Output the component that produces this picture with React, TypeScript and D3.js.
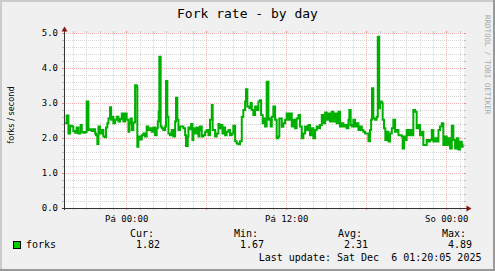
import React from "react";
import * as d3 from "d3";

// ---- data ----
const title = "Fork rate - by day";
const unitLabel = "forks / second";
const seriesName = "forks";
const watermark = "RRDTOOL / TOBI OETIKER";
const lastUpdate = "Last update: Sat Dec  6 01:20:05 2025";
const statLabels = ["Cur:", "Min:", "Avg:", "Max:"];
const statValues = ["1.82", "1.67", "2.31", "4.89"];
const dayNames = ["Ne", "Po", "Út", "St", "Čt", "Pá", "So"];
const yTicks = [0, 1, 2, 3, 4, 5];

// minutes after window start (Thu 19:20:05)
const sampleMinutes = [
  5, 12, 20, 27, 35, 42, 50, 57, 65, 72, 75, 80, 87, 95, 102, 110, 117, 125, 132, 140,
  144, 150, 155, 162, 170, 177, 185, 189, 195, 200, 207, 212, 218, 222, 230, 237, 245, 252, 260, 267,
  275, 282, 290, 294, 300, 305, 312, 320, 327, 330, 335, 342, 350, 357, 365, 372, 380, 387, 395, 402,
  410, 417, 422, 426, 429, 435, 440, 447, 455, 459, 465, 470, 477, 485, 492, 500, 504, 510, 515, 522,
  530, 537, 545, 549, 557, 560, 567, 572, 578, 582, 590, 597, 605, 609, 612, 620, 627, 635, 642, 650,
  657, 665, 669, 680, 687, 695, 699, 705, 713, 717, 725, 732, 740, 747, 755, 762, 770, 777, 785, 792,
  800, 807, 815, 819, 825, 834, 840, 845, 852, 860, 867, 875, 882, 887, 894, 900, 905, 912, 920, 924,
  930, 935, 942, 950, 957, 965, 969,
  972, 980, 987, 995, 1002, 1010, 1017, 1025, 1032, 1040, 1047, 1055, 1062, 1070, 1077, 1085, 1092, 1100, 1107, 1115,
  1122, 1130, 1137, 1145, 1152, 1160, 1167, 1175, 1182, 1190, 1197, 1205, 1212, 1220, 1227, 1235, 1242, 1250, 1257, 1265,
  1272, 1280, 1284, 1290, 1295, 1302, 1310, 1317, 1325, 1332, 1340, 1347, 1355, 1362, 1370, 1377, 1382, 1386, 1392, 1400,
  1407, 1412, 1418, 1422, 1430, 1434, 1440, 1446, 1452, 1460, 1467, 1475, 1482, 1490, 1497, 1505, 1512, 1520, 1524, 1530,
  1535, 1542, 1550, 1557, 1565, 1572, 1580, 1587, 1595, 1602, 1610, 1617, 1625, 1632, 1640, 1647, 1655, 1662, 1670, 1677,
  1685, 1692, 1700, 1707, 1715, 1722, 1730, 1737, 1745, 1752, 1760, 1767, 1775, 1782, 1790, 1794,
];

const forkRate = [
  2.42, 2.64, 2.13, 2.35, 2.33, 2.2, 2.15, 2.3, 2.13, 2.15, 2.37, 2.17, 2.15, 2.17, 3.04, 2.23, 2.25, 2.2, 2.25, 2.13,
  2.08, 1.83, 2.33, 2.13, 2.23, 2.04, 2.02, 2.3, 2.42, 2.56, 2.88, 2.52, 2.61, 2.42, 2.52, 2.61, 2.47, 2.54, 2.7, 2.47,
  2.7, 2.52, 2.18, 2.42, 2.56, 2.23, 2.44, 3.51, 3.47, 1.75, 2.04, 1.96, 2.08, 2.13, 2.04, 2.33, 2.23, 2.28, 2.18, 2.3,
  2.08, 2.28, 2.47, 2.76, 4.32, 2.33, 2.28, 2.23, 2.33, 3.63, 2.61, 2.13, 2.08, 2.23, 2.04, 2.47, 3.15, 2.52, 2.23, 2.33,
  2.33, 2.28, 2.08, 1.77, 2.04, 2.3, 2.25, 2.4, 1.94, 2.28, 2.13, 2.3, 2.04, 2.23, 2.33, 2.04, 2.08, 2.18, 2.23, 2.08,
  2.52, 2.94, 2.23, 2.04, 2.13, 2.4, 2.28, 2.37, 2.13, 2.3, 2.08, 2.18, 2.23, 2.08, 2.13, 2.35, 1.91, 1.84, 1.82, 1.91,
  2.61, 2.8, 3.04, 3.39, 2.9, 2.85, 3.0, 2.8, 2.66, 2.9, 2.8, 3.04, 3.08, 2.66, 2.42, 2.56, 2.33, 3.61, 2.52, 2.56,
  2.33, 2.61, 2.9, 2.52, 1.99, 2.04, 2.56,
  2.56, 2.32, 2.42, 2.52, 2.7, 2.52, 2.7, 2.33, 2.52, 2.28, 2.56, 2.66, 2.33, 1.99, 2.13, 2.33, 2.23, 2.37, 2.08, 2.28,
  1.99, 2.23, 2.33, 2.28, 2.37, 2.66, 2.42, 2.73, 2.52, 2.7, 2.47, 2.75, 2.47, 2.7, 2.42, 2.75, 2.33, 2.42, 2.33, 2.37,
  2.28, 2.52, 2.8, 2.37, 2.33, 2.52, 2.33, 2.42, 2.23, 2.33, 2.23, 2.18, 2.13, 2.13, 1.91, 2.23, 2.52, 3.42, 2.56, 2.52,
  2.61, 4.89, 2.85, 3.04, 3.0, 2.52, 2.28, 1.94, 2.18, 1.9, 2.13, 2.28, 2.52, 2.18, 2.23, 2.08, 2.08, 2.04, 1.7, 2.04,
  1.94, 2.23, 2.08, 2.23, 2.08, 2.8, 2.75, 2.28, 2.37, 2.08, 2.18, 1.8, 1.8, 1.94, 1.9, 1.94, 2.23, 1.9, 1.99, 1.9,
  2.23, 2.33, 2.42, 1.8, 2.04, 1.8, 1.99, 1.7, 2.35, 1.94, 1.7, 1.99, 1.67, 1.89, 1.75, 1.82,
];

const W = 495;
const H = 271;
const MONO = "'DejaVu Sans Mono', monospace";
const SANS = "'DejaVu Sans', sans-serif";

export default function App() {
  const start = new Date(2025, 11, 4, 19, 20, 5);
  const end = new Date(2025, 11, 6, 1, 20, 5);
  const left = 64, right = 464, top = 33, bottom = 208;
  const x = d3.scaleTime().domain([start, end]).range([left, right]);
  const y = d3.scaleLinear().domain([0, 5]).range([bottom, top]);

  const data = sampleMinutes.map((m, i) => ({
    t: new Date(start.getTime() + m * 60000),
    v: forkRate[i],
  }));
  const line = d3
    .line<{ t: Date; v: number }>()
    .x((d) => x(d.t))
    .y((d) => y(d.v))
    .curve(d3.curveStepAfter);

  const hours = d3.timeHour.range(d3.timeHour.ceil(start), end);
  const minorY = d3.range(0, 5.0001, 0.2).map((v) => Math.round(v * 10) / 10);

  const px = (v: number) => Math.round(v) + 0.5;
  const GRID = "#d6d6d6";
  const MGRID = "#f6b0b0";
  const GRIDT = "#bdbdbd";
  const MGRIDT = "#e39090";

  const fmtLabel = (d: Date) =>
    `${dayNames[d.getDay()]} ${d3.timeFormat("%H:%M")(d)}`;

  return (
    <svg
      width={W}
      height={H}
      style={{ position: "absolute", left: 0, top: 0, display: "block" }}
    >
      <rect x={0} y={0} width={W} height={H} fill="#f0f0f0" />
      <rect x={0} y={0} width={W} height={2} fill="#cbcbcb" />
      <rect x={0} y={0} width={2} height={H} fill="#cbcbcb" />
      <rect x={0} y={H - 2} width={W} height={2} fill="#999999" />
      <rect x={W - 2} y={0} width={2} height={H} fill="#999999" />

      <text x={W / 2} y={18} textAnchor="middle" fontFamily={MONO} fontSize={13} fill="#000">
        {title}
      </text>

      <rect x={left} y={top} width={right - left} height={bottom - top} fill="#ffffff" />

      {/* horizontal grid */}
      {minorY.map((v) => {
        const major = Math.abs(v - Math.round(v)) < 1e-6;
        const yy = px(y(v));
        return (
          <g key={"h" + v}>
            {v > 0 && (
              <line x1={left} x2={right} y1={yy} y2={yy} stroke={major ? MGRID : GRID} strokeDasharray="1,1" />
            )}
            <line x1={left - 2} x2={left} y1={yy} y2={yy} stroke={major ? MGRIDT : GRIDT} />
            <line x1={right} x2={right + 2} y1={yy} y2={yy} stroke={major ? MGRIDT : GRIDT} />
          </g>
        );
      })}

      {/* vertical grid */}
      {hours.map((h) => {
        const major = h.getHours() % 6 === 0;
        const xx = px(x(h));
        return (
          <g key={"v" + h.getTime()}>
            <line x1={xx} x2={xx} y1={top} y2={bottom} stroke={major ? MGRID : GRID} strokeDasharray="1,1" />
            <line x1={xx} x2={xx} y1={top - 2} y2={top} stroke={major ? MGRIDT : GRIDT} />
            <line x1={xx} x2={xx} y1={bottom} y2={bottom + 2} stroke={major ? MGRIDT : GRIDT} />
          </g>
        );
      })}

      {/* data */}
      <path d={line(data) || ""} fill="none" stroke="#00b000" strokeWidth={2} strokeLinejoin="miter" />

      {/* axes */}
      <line x1={left - 2} x2={right + 3} y1={bottom + 0.5} y2={bottom + 0.5} stroke="#333333" />
      <line x1={left + 0.5} x2={left + 0.5} y1={bottom + 2} y2={top - 2} stroke="#333333" />
      <path d={`M${left - 2.5},${top - 1.5} L${left + 3.5},${top - 1.5} L${left + 0.5},${top - 6.5} Z`} fill="#8b1010" />
      <path d={`M${right + 2.5},${bottom - 2.5} L${right + 2.5},${bottom + 3.5} L${right + 7.5},${bottom + 0.5} Z`} fill="#8b1010" />

      {/* y labels */}
      {yTicks.map((v) => (
        <text key={"yl" + v} x={58} y={y(v) + 3.3} textAnchor="end" fontFamily={MONO} fontSize={9} fill="#000">
          {v.toFixed(1)}
        </text>
      ))}
      {/* x labels */}
      {hours
        .filter((h) => h.getHours() % 12 === 0)
        .map((h) => (
          <text key={"xl" + h.getTime()} x={x(h) + 0.5} y={221.5} textAnchor="middle" fontFamily={MONO} fontSize={9} fill="#000">
            {fmtLabel(h)}
          </text>
        ))}

      <text
        transform={`translate(13.5,115) rotate(-90)`}
        textAnchor="middle"
        fontFamily={SANS}
        fontSize={8.2}
        fill="#000"
      >
        {unitLabel}
      </text>

      <text
        transform={`translate(485,15) rotate(90)`}
        textAnchor="start"
        fontFamily={MONO}
        fontSize={7.5}
        fill="#a8a8a8"
      >
        {watermark}
      </text>

      {/* legend */}
      {statLabels.map((s, i) => (
        <text key={s} x={130 + i * 104} y={236.5} fontFamily={MONO} fontSize={10} fill="#000">
          {s}
        </text>
      ))}
      <rect x={13.5} y={241.5} width={7} height={7} fill="#00cc00" stroke="#000" strokeWidth={1} />
      <text x={26} y={248.3} fontFamily={MONO} fontSize={10} fill="#000">
        {seriesName}
      </text>
      {statValues.map((s, i) => (
        <text key={"sv" + i} x={136 + i * 104} y={248.3} fontFamily={MONO} fontSize={10} fill="#000">
          {s}
        </text>
      ))}
      <text x={258.7} y={260.7} fontFamily={MONO} fontSize={10} fill="#000">
        {lastUpdate.replace(/ /g, "\u00a0")}
      </text>
    </svg>
  );
}
